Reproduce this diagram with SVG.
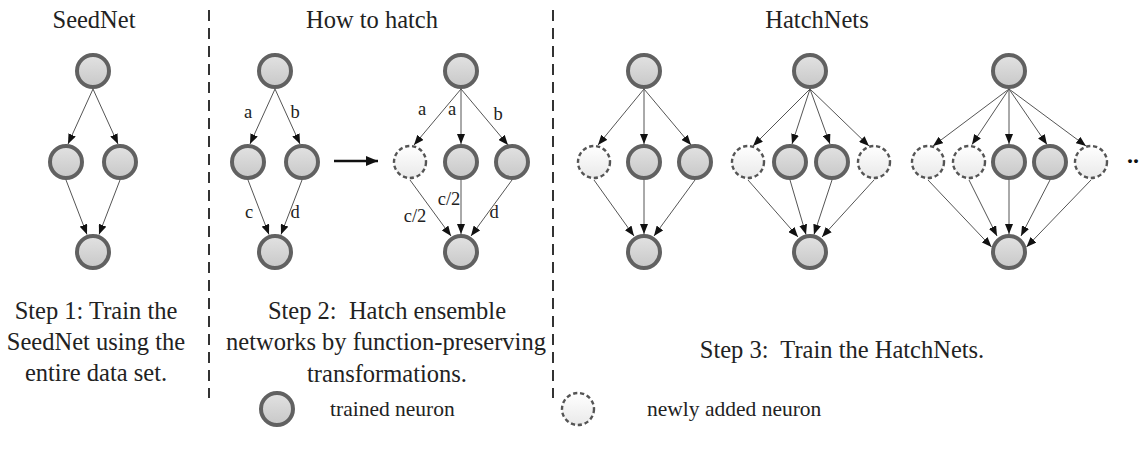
<svg xmlns="http://www.w3.org/2000/svg" width="1140" height="459" viewBox="0 0 1140 459">
<style>
.t{fill:url(#gT);stroke:#616161;stroke-width:4}
.n{fill:url(#gN);stroke:#555;stroke-width:2.4;stroke-dasharray:4.2,2.8}
.e{stroke:#555;stroke-width:1;fill:none;marker-end:url(#ah)}
.sep{stroke:#333;stroke-width:2;stroke-dasharray:11,7}
.ti{font-family:"Liberation Serif","Times New Roman",serif;font-size:24.5px;fill:#222;text-anchor:middle}
.st{font-family:"Liberation Serif","Times New Roman",serif;font-size:24.5px;fill:#222;text-anchor:middle;white-space:pre}
.lb{font-family:"Liberation Serif","Times New Roman",serif;font-size:18.5px;fill:#222;text-anchor:middle}
.lg{font-family:"Liberation Serif","Times New Roman",serif;font-size:21.5px;fill:#222}
</style>
<defs>
<linearGradient id="gT" x1="0" y1="0" x2="0" y2="1"><stop offset="0" stop-color="#e2e2e2"/><stop offset="1" stop-color="#c8c8c8"/></linearGradient>
<linearGradient id="gN" x1="0" y1="0" x2="0" y2="1"><stop offset="0" stop-color="#ffffff"/><stop offset="1" stop-color="#e9e9e9"/></linearGradient>
<marker id="ah" viewBox="0 0 10 8" refX="10" refY="4" markerWidth="10" markerHeight="8" markerUnits="userSpaceOnUse" orient="auto"><path d="M0,0 L10,4 L0,8 z" fill="#111"/></marker>
<marker id="ahb" viewBox="0 0 12 10" refX="12" refY="5" markerWidth="12" markerHeight="10" markerUnits="userSpaceOnUse" orient="auto"><path d="M0,0 L12,5 L0,10 z" fill="#111"/></marker>
</defs>

<g id="separators">
<line class="sep" x1="209" y1="10" x2="209" y2="398"/>
<line class="sep" x1="553" y1="10" x2="553" y2="398"/>
</g>

<g id="titles">
<text class="ti" x="94" y="28">SeedNet</text>
<text class="ti" x="372" y="28">How to hatch</text>
<text class="ti" x="817" y="28">HatchNets</text>
</g>

<g id="connectors">
<!-- SeedNet -->
<line class="e" x1="93" y1="89" x2="68" y2="144"/>
<line class="e" x1="93" y1="89" x2="118" y2="144"/>
<line class="e" x1="66" y1="180" x2="87" y2="234.5"/>
<line class="e" x1="120" y1="180" x2="99" y2="234.5"/>
<!-- Hatch before -->
<line class="e" x1="275" y1="89" x2="250" y2="144"/>
<line class="e" x1="275" y1="89" x2="300" y2="144"/>
<line class="e" x1="248" y1="180" x2="269" y2="234.5"/>
<line class="e" x1="302" y1="180" x2="281" y2="234.5"/>
<!-- hatch arrow -->
<line x1="334" y1="161" x2="378" y2="161" stroke="#111" stroke-width="2.5" marker-end="url(#ahb)"/>
<!-- Hatch after -->
<line class="e" x1="461" y1="89" x2="414" y2="145"/>
<line class="e" x1="461" y1="89" x2="461" y2="144"/>
<line class="e" x1="461" y1="89" x2="508" y2="145"/>
<line class="e" x1="410" y1="180" x2="451" y2="236"/>
<line class="e" x1="461" y1="180" x2="461" y2="234"/>
<line class="e" x1="512" y1="180" x2="471" y2="236"/>
<!-- HatchNet 1 -->
<line class="e" x1="644" y1="89" x2="598" y2="145"/>
<line class="e" x1="644" y1="89" x2="644" y2="144"/>
<line class="e" x1="644" y1="89" x2="691" y2="145"/>
<line class="e" x1="594" y1="180" x2="634" y2="236"/>
<line class="e" x1="644" y1="180" x2="644" y2="234"/>
<line class="e" x1="695" y1="180" x2="654" y2="236"/>
<!-- HatchNet 2 -->
<line class="e" x1="810" y1="89" x2="753" y2="146"/>
<line class="e" x1="810" y1="89" x2="792" y2="144"/>
<line class="e" x1="810" y1="89" x2="830" y2="144"/>
<line class="e" x1="810" y1="89" x2="869" y2="146"/>
<line class="e" x1="748" y1="180" x2="798" y2="237"/>
<line class="e" x1="790" y1="180" x2="806" y2="234.5"/>
<line class="e" x1="832" y1="180" x2="814" y2="234.5"/>
<line class="e" x1="874" y1="180" x2="822" y2="237"/>
<!-- HatchNet 3 -->
<line class="e" x1="1009" y1="89" x2="933" y2="146"/>
<line class="e" x1="1009" y1="89" x2="972" y2="144.5"/>
<line class="e" x1="1009" y1="89" x2="1009" y2="144"/>
<line class="e" x1="1009" y1="89" x2="1047" y2="144.5"/>
<line class="e" x1="1009" y1="89" x2="1086" y2="146"/>
<line class="e" x1="928" y1="180" x2="991.5" y2="247"/>
<line class="e" x1="969" y1="180" x2="997" y2="236"/>
<line class="e" x1="1009" y1="180" x2="1009" y2="234"/>
<line class="e" x1="1050" y1="180" x2="1021" y2="236"/>
<line class="e" x1="1091" y1="180" x2="1026.5" y2="247"/>
</g>

<g id="edge-labels">
<text class="lb" x="248" y="118">a</text>
<text class="lb" x="295" y="118">b</text>
<text class="lb" x="249" y="218">c</text>
<text class="lb" x="295" y="218">d</text>
<text class="lb" x="422" y="115">a</text>
<text class="lb" x="452" y="115">a</text>
<text class="lb" x="498" y="120">b</text>
<text class="lb" x="449" y="205">c/2</text>
<text class="lb" x="415" y="222">c/2</text>
<text class="lb" x="494" y="218">d</text>
</g>

<g id="seednet">
<circle id="s-top" class="t" cx="93" cy="71" r="16"/>
<circle id="s-m1" class="t" cx="66" cy="162" r="16"/>
<circle id="s-m2" class="t" cx="120" cy="162" r="16"/>
<circle id="s-bot" class="t" cx="93" cy="252" r="16"/>
</g>

<g id="hatch-before">
<circle id="h1-top" class="t" cx="275" cy="71" r="16"/>
<circle id="h1-m1" class="t" cx="248" cy="162" r="16"/>
<circle id="h1-m2" class="t" cx="302" cy="162" r="16"/>
<circle id="h1-bot" class="t" cx="275" cy="252" r="16"/>
</g>

<g id="hatch-after">
<circle id="h2-top" class="t" cx="461" cy="71" r="16"/>
<circle id="h2-new" class="n" cx="410" cy="162" r="16"/>
<circle id="h2-m1" class="t" cx="461" cy="162" r="16"/>
<circle id="h2-m2" class="t" cx="512" cy="162" r="16"/>
<circle id="h2-bot" class="t" cx="461" cy="252" r="16"/>
</g>

<g id="hatchnet-1">
<circle id="n1-top" class="t" cx="644" cy="71" r="16"/>
<circle id="n1-new" class="n" cx="594" cy="162" r="16"/>
<circle id="n1-m1" class="t" cx="644" cy="162" r="16"/>
<circle id="n1-m2" class="t" cx="695" cy="162" r="16"/>
<circle id="n1-bot" class="t" cx="644" cy="252" r="16"/>
</g>

<g id="hatchnet-2">
<circle id="n2-top" class="t" cx="810" cy="71" r="16"/>
<circle id="n2-new1" class="n" cx="748" cy="162" r="16"/>
<circle id="n2-m1" class="t" cx="790" cy="162" r="16"/>
<circle id="n2-m2" class="t" cx="832" cy="162" r="16"/>
<circle id="n2-new2" class="n" cx="874" cy="162" r="16"/>
<circle id="n2-bot" class="t" cx="810" cy="252" r="16"/>
</g>

<g id="hatchnet-3">
<circle id="n3-top" class="t" cx="1009" cy="71" r="16"/>
<circle id="n3-new1" class="n" cx="928" cy="162" r="16"/>
<circle id="n3-new2" class="n" cx="969" cy="162" r="16"/>
<circle id="n3-m1" class="t" cx="1009" cy="162" r="16"/>
<circle id="n3-m2" class="t" cx="1050" cy="162" r="16"/>
<circle id="n3-new3" class="n" cx="1091" cy="162" r="16"/>
<circle id="n3-bot" class="t" cx="1009" cy="252" r="16"/>
</g>

<g id="ellipsis">
<text x="1127" y="163" font-family="Liberation Serif, serif" font-size="24" font-weight="bold" fill="#111">..</text>
</g>

<g id="steps">
<text class="st" x="96" y="319">Step 1: Train the</text>
<text class="st" x="96" y="350">SeedNet using the</text>
<text class="st" x="96" y="381">entire data set.</text>
<text class="st" x="387" y="319">Step 2:  Hatch ensemble</text>
<text class="st" x="386" y="350">networks by function-preserving</text>
<text class="st" x="387" y="382">transformations.</text>
<text class="st" x="842" y="358">Step 3:  Train the HatchNets.</text>
</g>

<g id="legend">
<circle id="lg-trained" class="t" cx="277" cy="409" r="16"/>
<text class="lg" x="330" y="416">trained neuron</text>
<circle id="lg-new" class="n" cx="578" cy="409" r="16"/>
<text class="lg" x="647" y="416">newly added neuron</text>
</g>
</svg>
